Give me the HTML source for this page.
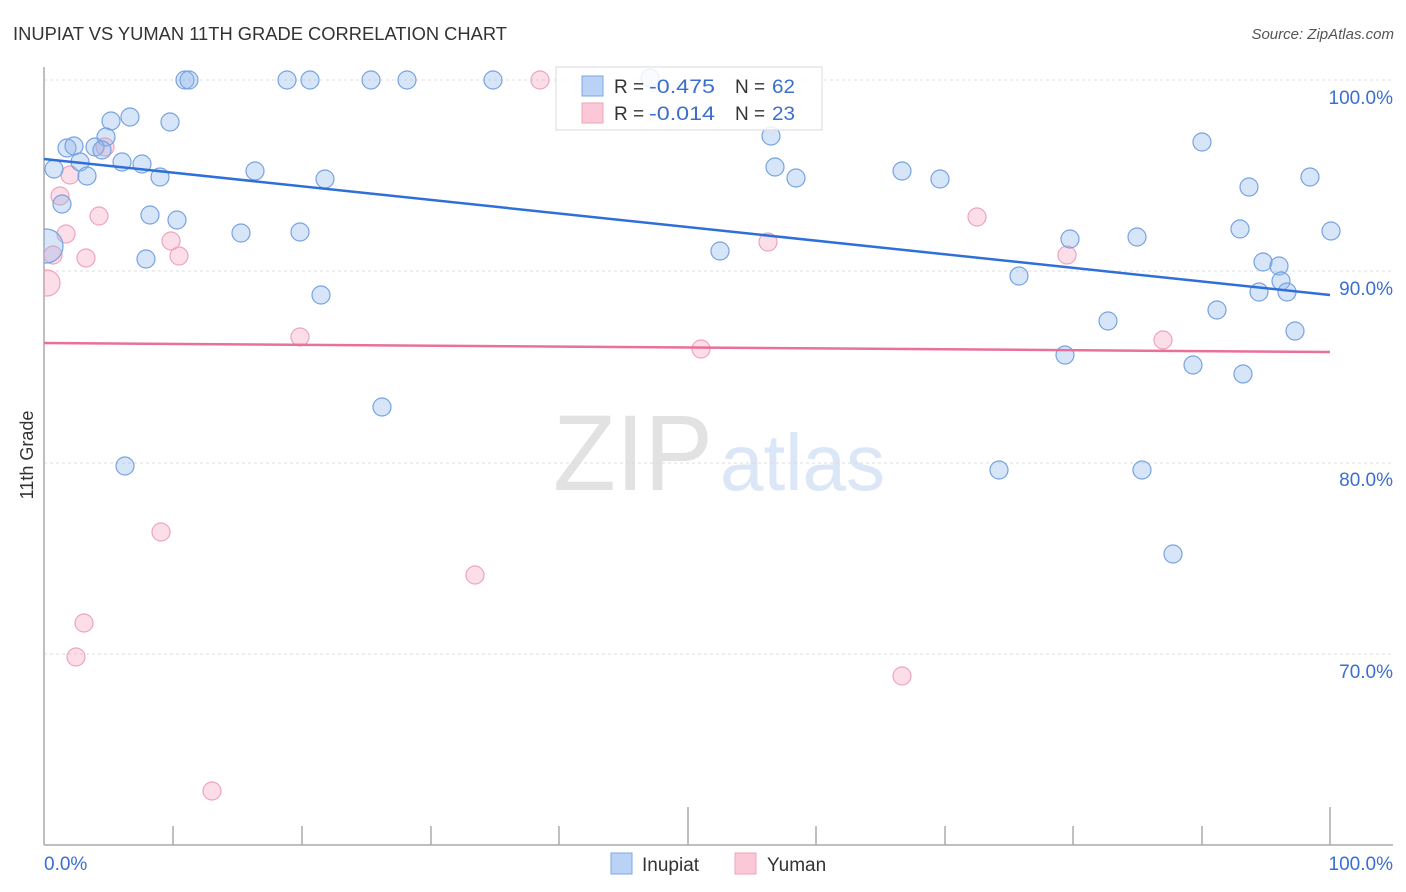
<!DOCTYPE html>
<html><head><meta charset="utf-8"><style>
html,body{margin:0;padding:0;background:#fff;}
svg{display:block;}
text{font-family:"Liberation Sans",sans-serif;}
</style></head><body>
<svg width="1406" height="892" viewBox="0 0 1406 892" xmlns="http://www.w3.org/2000/svg">
<defs><clipPath id="pa"><rect x="44" y="60" width="1360" height="786"/></clipPath></defs>
<rect width="1406" height="892" fill="#fff"/>
<text x="13" y="40" font-size="18" fill="#333" textLength="494" lengthAdjust="spacingAndGlyphs">INUPIAT VS YUMAN 11TH GRADE CORRELATION CHART</text>
<text x="1394" y="39" font-size="15" fill="#555" font-style="italic" text-anchor="end">Source: ZipAtlas.com</text>
<text x="553" y="490" font-family="Liberation Serif,serif" font-size="108" fill="#e2e2e2" textLength="160" lengthAdjust="spacingAndGlyphs">ZIP</text>
<text x="720" y="490" font-size="80" fill="#dbe6f6" textLength="165" lengthAdjust="spacingAndGlyphs">atlas</text>
<g stroke="#dcdcdc" stroke-width="1" stroke-dasharray="3,3">
<line x1="44" y1="80" x2="1393" y2="80"/>
<line x1="44" y1="271" x2="1393" y2="271"/>
<line x1="44" y1="463" x2="1393" y2="463"/>
<line x1="44" y1="654" x2="1393" y2="654"/>
</g>
<g stroke="#aaa" stroke-width="1.5">
<line x1="44" y1="67" x2="44" y2="845"/>
<line x1="44" y1="845" x2="1393" y2="845"/>
<line x1="173" y1="826" x2="173" y2="845"/>
<line x1="302" y1="826" x2="302" y2="845"/>
<line x1="431" y1="826" x2="431" y2="845"/>
<line x1="559" y1="826" x2="559" y2="845"/>
<line x1="688" y1="807" x2="688" y2="845"/>
<line x1="816" y1="826" x2="816" y2="845"/>
<line x1="945" y1="826" x2="945" y2="845"/>
<line x1="1073" y1="826" x2="1073" y2="845"/>
<line x1="1202" y1="826" x2="1202" y2="845"/>
<line x1="1330" y1="807" x2="1330" y2="845"/>
</g>
<g font-size="19" fill="#3a6fd0" text-anchor="end">
<text x="1393" y="104">100.0%</text>
<text x="1393" y="295">90.0%</text>
<text x="1393" y="486">80.0%</text>
<text x="1393" y="678">70.0%</text>
</g>
<text x="44" y="870" font-size="19" fill="#3a6fd0">0.0%</text>
<text x="1393" y="870" font-size="19" fill="#3a6fd0" text-anchor="end">100.0%</text>
<text transform="translate(33,455) rotate(-90)" font-size="18" fill="#333" text-anchor="middle">11th Grade</text>
<g fill="rgba(246,160,190,0.35)" stroke="#f0a3bc" stroke-width="1.2" clip-path="url(#pa)">
<circle cx="540" cy="80" r="9"/>
<circle cx="105" cy="147" r="9"/>
<circle cx="70" cy="175" r="9"/>
<circle cx="60" cy="196" r="9"/>
<circle cx="99" cy="216" r="9"/>
<circle cx="66" cy="234" r="9"/>
<circle cx="171" cy="241" r="9"/>
<circle cx="53" cy="255" r="9"/>
<circle cx="86" cy="258" r="9"/>
<circle cx="179" cy="256" r="9"/>
<circle cx="47" cy="283" r="13"/>
<circle cx="300" cy="337" r="9"/>
<circle cx="161" cy="532" r="9"/>
<circle cx="475" cy="575" r="9"/>
<circle cx="84" cy="623" r="9"/>
<circle cx="76" cy="657" r="9"/>
<circle cx="212" cy="791" r="9"/>
<circle cx="768" cy="242" r="9"/>
<circle cx="977" cy="217" r="9"/>
<circle cx="1067" cy="255" r="9"/>
<circle cx="701" cy="349" r="9"/>
<circle cx="902" cy="676" r="9"/>
<circle cx="1163" cy="340" r="9"/>
</g>
<g fill="rgba(140,180,235,0.35)" stroke="#76a2e2" stroke-width="1.2" clip-path="url(#pa)">
<circle cx="185" cy="80" r="9"/>
<circle cx="189" cy="80" r="9"/>
<circle cx="287" cy="80" r="9"/>
<circle cx="310" cy="80" r="9"/>
<circle cx="371" cy="80" r="9"/>
<circle cx="407" cy="80" r="9"/>
<circle cx="493" cy="80" r="9"/>
<circle cx="650" cy="78" r="9"/>
<circle cx="111" cy="121" r="9"/>
<circle cx="130" cy="117" r="9"/>
<circle cx="170" cy="122" r="9"/>
<circle cx="106" cy="137" r="9"/>
<circle cx="67" cy="148" r="9"/>
<circle cx="74" cy="146" r="9"/>
<circle cx="95" cy="147" r="9"/>
<circle cx="102" cy="150" r="9"/>
<circle cx="80" cy="162" r="9"/>
<circle cx="54" cy="169" r="9"/>
<circle cx="122" cy="162" r="9"/>
<circle cx="142" cy="164" r="9"/>
<circle cx="160" cy="177" r="9"/>
<circle cx="87" cy="176" r="9"/>
<circle cx="255" cy="171" r="9"/>
<circle cx="325" cy="179" r="9"/>
<circle cx="62" cy="204" r="9"/>
<circle cx="150" cy="215" r="9"/>
<circle cx="177" cy="220" r="9"/>
<circle cx="241" cy="233" r="9"/>
<circle cx="300" cy="232" r="9"/>
<circle cx="46" cy="246" r="17"/>
<circle cx="146" cy="259" r="9"/>
<circle cx="321" cy="295" r="9"/>
<circle cx="382" cy="407" r="9"/>
<circle cx="125" cy="466" r="9"/>
<circle cx="771" cy="136" r="9"/>
<circle cx="775" cy="167" r="9"/>
<circle cx="796" cy="178" r="9"/>
<circle cx="902" cy="171" r="9"/>
<circle cx="940" cy="179" r="9"/>
<circle cx="720" cy="251" r="9"/>
<circle cx="1070" cy="239" r="9"/>
<circle cx="1019" cy="276" r="9"/>
<circle cx="1065" cy="355" r="9"/>
<circle cx="999" cy="470" r="9"/>
<circle cx="1142" cy="470" r="9"/>
<circle cx="1173" cy="554" r="9"/>
<circle cx="1202" cy="142" r="9"/>
<circle cx="1249" cy="187" r="9"/>
<circle cx="1310" cy="177" r="9"/>
<circle cx="1240" cy="229" r="9"/>
<circle cx="1331" cy="231" r="9"/>
<circle cx="1137" cy="237" r="9"/>
<circle cx="1263" cy="262" r="9"/>
<circle cx="1279" cy="266" r="9"/>
<circle cx="1281" cy="281" r="9"/>
<circle cx="1259" cy="292" r="9"/>
<circle cx="1287" cy="292" r="9"/>
<circle cx="1217" cy="310" r="9"/>
<circle cx="1108" cy="321" r="9"/>
<circle cx="1295" cy="331" r="9"/>
<circle cx="1193" cy="365" r="9"/>
<circle cx="1243" cy="374" r="9"/>
</g>
<line x1="44" y1="159" x2="1330" y2="295" stroke="#2f6fd8" stroke-width="2.5"/>
<line x1="44" y1="343" x2="1330" y2="352" stroke="#e8709a" stroke-width="2.5"/>
<rect x="556" y="67" width="266" height="63" fill="rgba(255,255,255,0.85)" stroke="#d8d8d8" stroke-width="1"/>
<rect x="582" y="76" width="21" height="20" fill="#b9d2f5" stroke="#7ea7e3" stroke-width="1"/>
<rect x="582" y="103" width="21" height="20" fill="#fbc8d7" stroke="#f0a3bc" stroke-width="1"/>
<g font-size="19">
<text x="614" y="93" fill="#333">R =</text>
<text x="649" y="93" fill="#3a6fd0" textLength="66" lengthAdjust="spacingAndGlyphs">-0.475</text>
<text x="735" y="93" fill="#333">N =</text>
<text x="772" y="93" fill="#3a6fd0" textLength="23" lengthAdjust="spacingAndGlyphs">62</text>
<text x="614" y="120" fill="#333">R =</text>
<text x="649" y="120" fill="#3a6fd0" textLength="66" lengthAdjust="spacingAndGlyphs">-0.014</text>
<text x="735" y="120" fill="#333">N =</text>
<text x="772" y="120" fill="#3a6fd0" textLength="23" lengthAdjust="spacingAndGlyphs">23</text>
</g>
<rect x="611" y="853" width="21" height="21" fill="#b9d2f5" stroke="#7ea7e3" stroke-width="1"/>
<text x="642" y="871" font-size="19" fill="#333">Inupiat</text>
<rect x="735" y="853" width="21" height="21" fill="#fbc8d7" stroke="#f0a3bc" stroke-width="1"/>
<text x="767" y="871" font-size="19" fill="#333">Yuman</text>
</svg>
</body></html>
